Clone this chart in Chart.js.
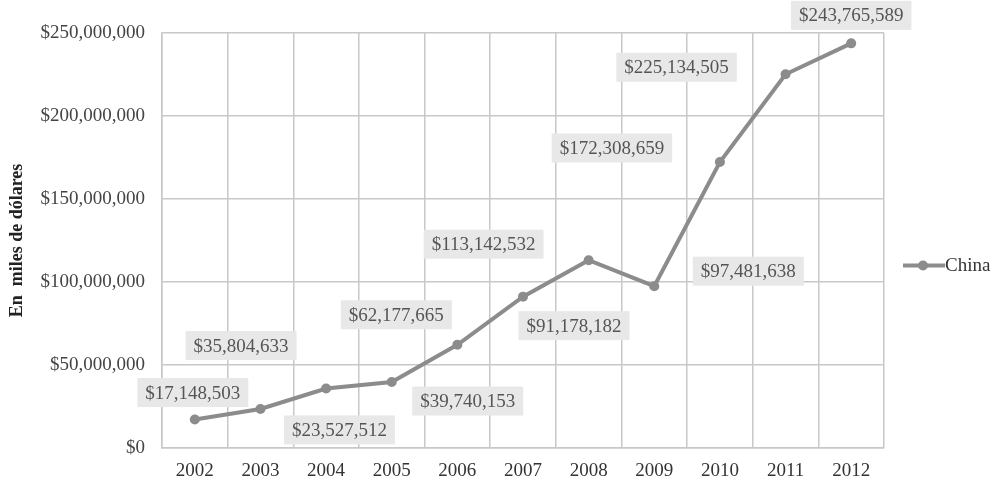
<!DOCTYPE html>
<html>
<head>
<meta charset="utf-8">
<script src="https://cdn.jsdelivr.net/npm/chart.js@4/dist/chart.umd.min.js"></script>
<style>
  body { margin: 0; background: #fff; }
  canvas { display: block; }
</style>
</head>
<body>
<canvas id="myChart" width="996" height="487"></canvas>
<script>
// data
var years = ["2002", "2003", "2004", "2005", "2006", "2007", "2008", "2009", "2010", "2011", "2012"];
var china = [17148503, 23527512, 35804633, 39740153, 62177665, 91178182, 113142532, 97481638, 172308659, 225134505, 243765589];
var yTicks = [0, 50000000, 100000000, 150000000, 200000000, 250000000];

// where each value label sits, relative to its point (px)
var labelOffsets = [[-2, -27], [79, 21], [-85, -43], [76, 19], [-61, -30], [51, 29], [-105, -16], [94, -15], [-108, -14], [-109, -7], [0, -28]];

var grey = "#8c8c8c";
var serif = "'Liberation Serif', 'Times New Roman', serif";

function money(v) {
  return "$" + v.toString().replace(/\B(?=(\d{3})+(?!\d))/g, ",");
}

var labelsPlugin = {
  id: "valueLabels",
  afterDatasetsDraw: function(chart) {
    var ctx = chart.ctx;
    var meta = chart.getDatasetMeta(0);
    ctx.save();
    ctx.font = "19px " + serif;
    ctx.textAlign = "center";
    ctx.textBaseline = "middle";
    meta.data.forEach(function(pt, i) {
      var txt = money(china[i]);
      var x = pt.x + labelOffsets[i][0];
      var y = pt.y + labelOffsets[i][1];
      var w = ctx.measureText(txt).width + 16;
      var h = 29;
      ctx.fillStyle = "#e8e8e8";
      ctx.fillRect(x - w / 2, y - h / 2, w, h);
      ctx.fillStyle = "#555";
      ctx.fillText(txt, x, y + 1);
    });
    // legend
    var ly = (chart.chartArea.top + chart.chartArea.bottom) / 2 + 25;
    ctx.strokeStyle = grey;
    ctx.lineWidth = 4;
    ctx.beginPath();
    ctx.moveTo(903, ly);
    ctx.lineTo(945, ly);
    ctx.stroke();
    ctx.fillStyle = grey;
    ctx.beginPath();
    ctx.arc(923, ly, 5, 0, Math.PI * 2);
    ctx.fill();
    ctx.fillStyle = "#333";
    ctx.textAlign = "left";
    ctx.fillText("China", 945, ly + 1);
    ctx.restore();
  }
};

var ctx = document.getElementById("myChart").getContext("2d");
var myChart = new Chart(ctx, {
  type: "line",
  data: {
    labels: years,
    datasets: [{
      label: "China",
      data: china,
      borderColor: grey,
      backgroundColor: grey,
      borderWidth: 4,
      pointRadius: 5,
      pointBackgroundColor: grey,
      pointBorderWidth: 0,
      tension: 0
    }]
  },
  options: {
    responsive: false,
    animation: false,
    layout: { padding: { left: 0, right: 112, top: 33, bottom: 0 } },
    plugins: {
      legend: { display: false },
      tooltip: { enabled: false }
    },
    scales: {
      x: {
        offset: true,
        grid: { offset: true, color: "#c8c8c8", lineWidth: 1.5, drawTicks: false },
        border: { color: "#c8c8c8", width: 1.5 },
        ticks: { color: "#333", padding: 12, font: { family: serif, size: 19 } },
        afterFit: function(s) { s.height = 39; }
      },
      y: {
        min: 0,
        max: 250000000,
        afterBuildTicks: function(s) { s.ticks = yTicks.map(function(v) { return { value: v }; }); },
        grid: { color: "#c8c8c8", lineWidth: 1.5, drawTicks: false },
        border: { color: "#c8c8c8", width: 1.5 },
        ticks: {
          color: "#444",
          padding: 17,
          font: { family: serif, size: 19 },
          callback: function(v) { return money(v); }
        },
        title: {
          display: true,
          text: "En  miles de dólares",
          color: "#222",
          font: { family: serif, size: 18, weight: "bold" },
          padding: { top: 7, bottom: 0 }
        },
        afterFit: function(s) { s.width = 162; }
      }
    }
  },
  plugins: [labelsPlugin]
});
</script>
</body>
</html>
